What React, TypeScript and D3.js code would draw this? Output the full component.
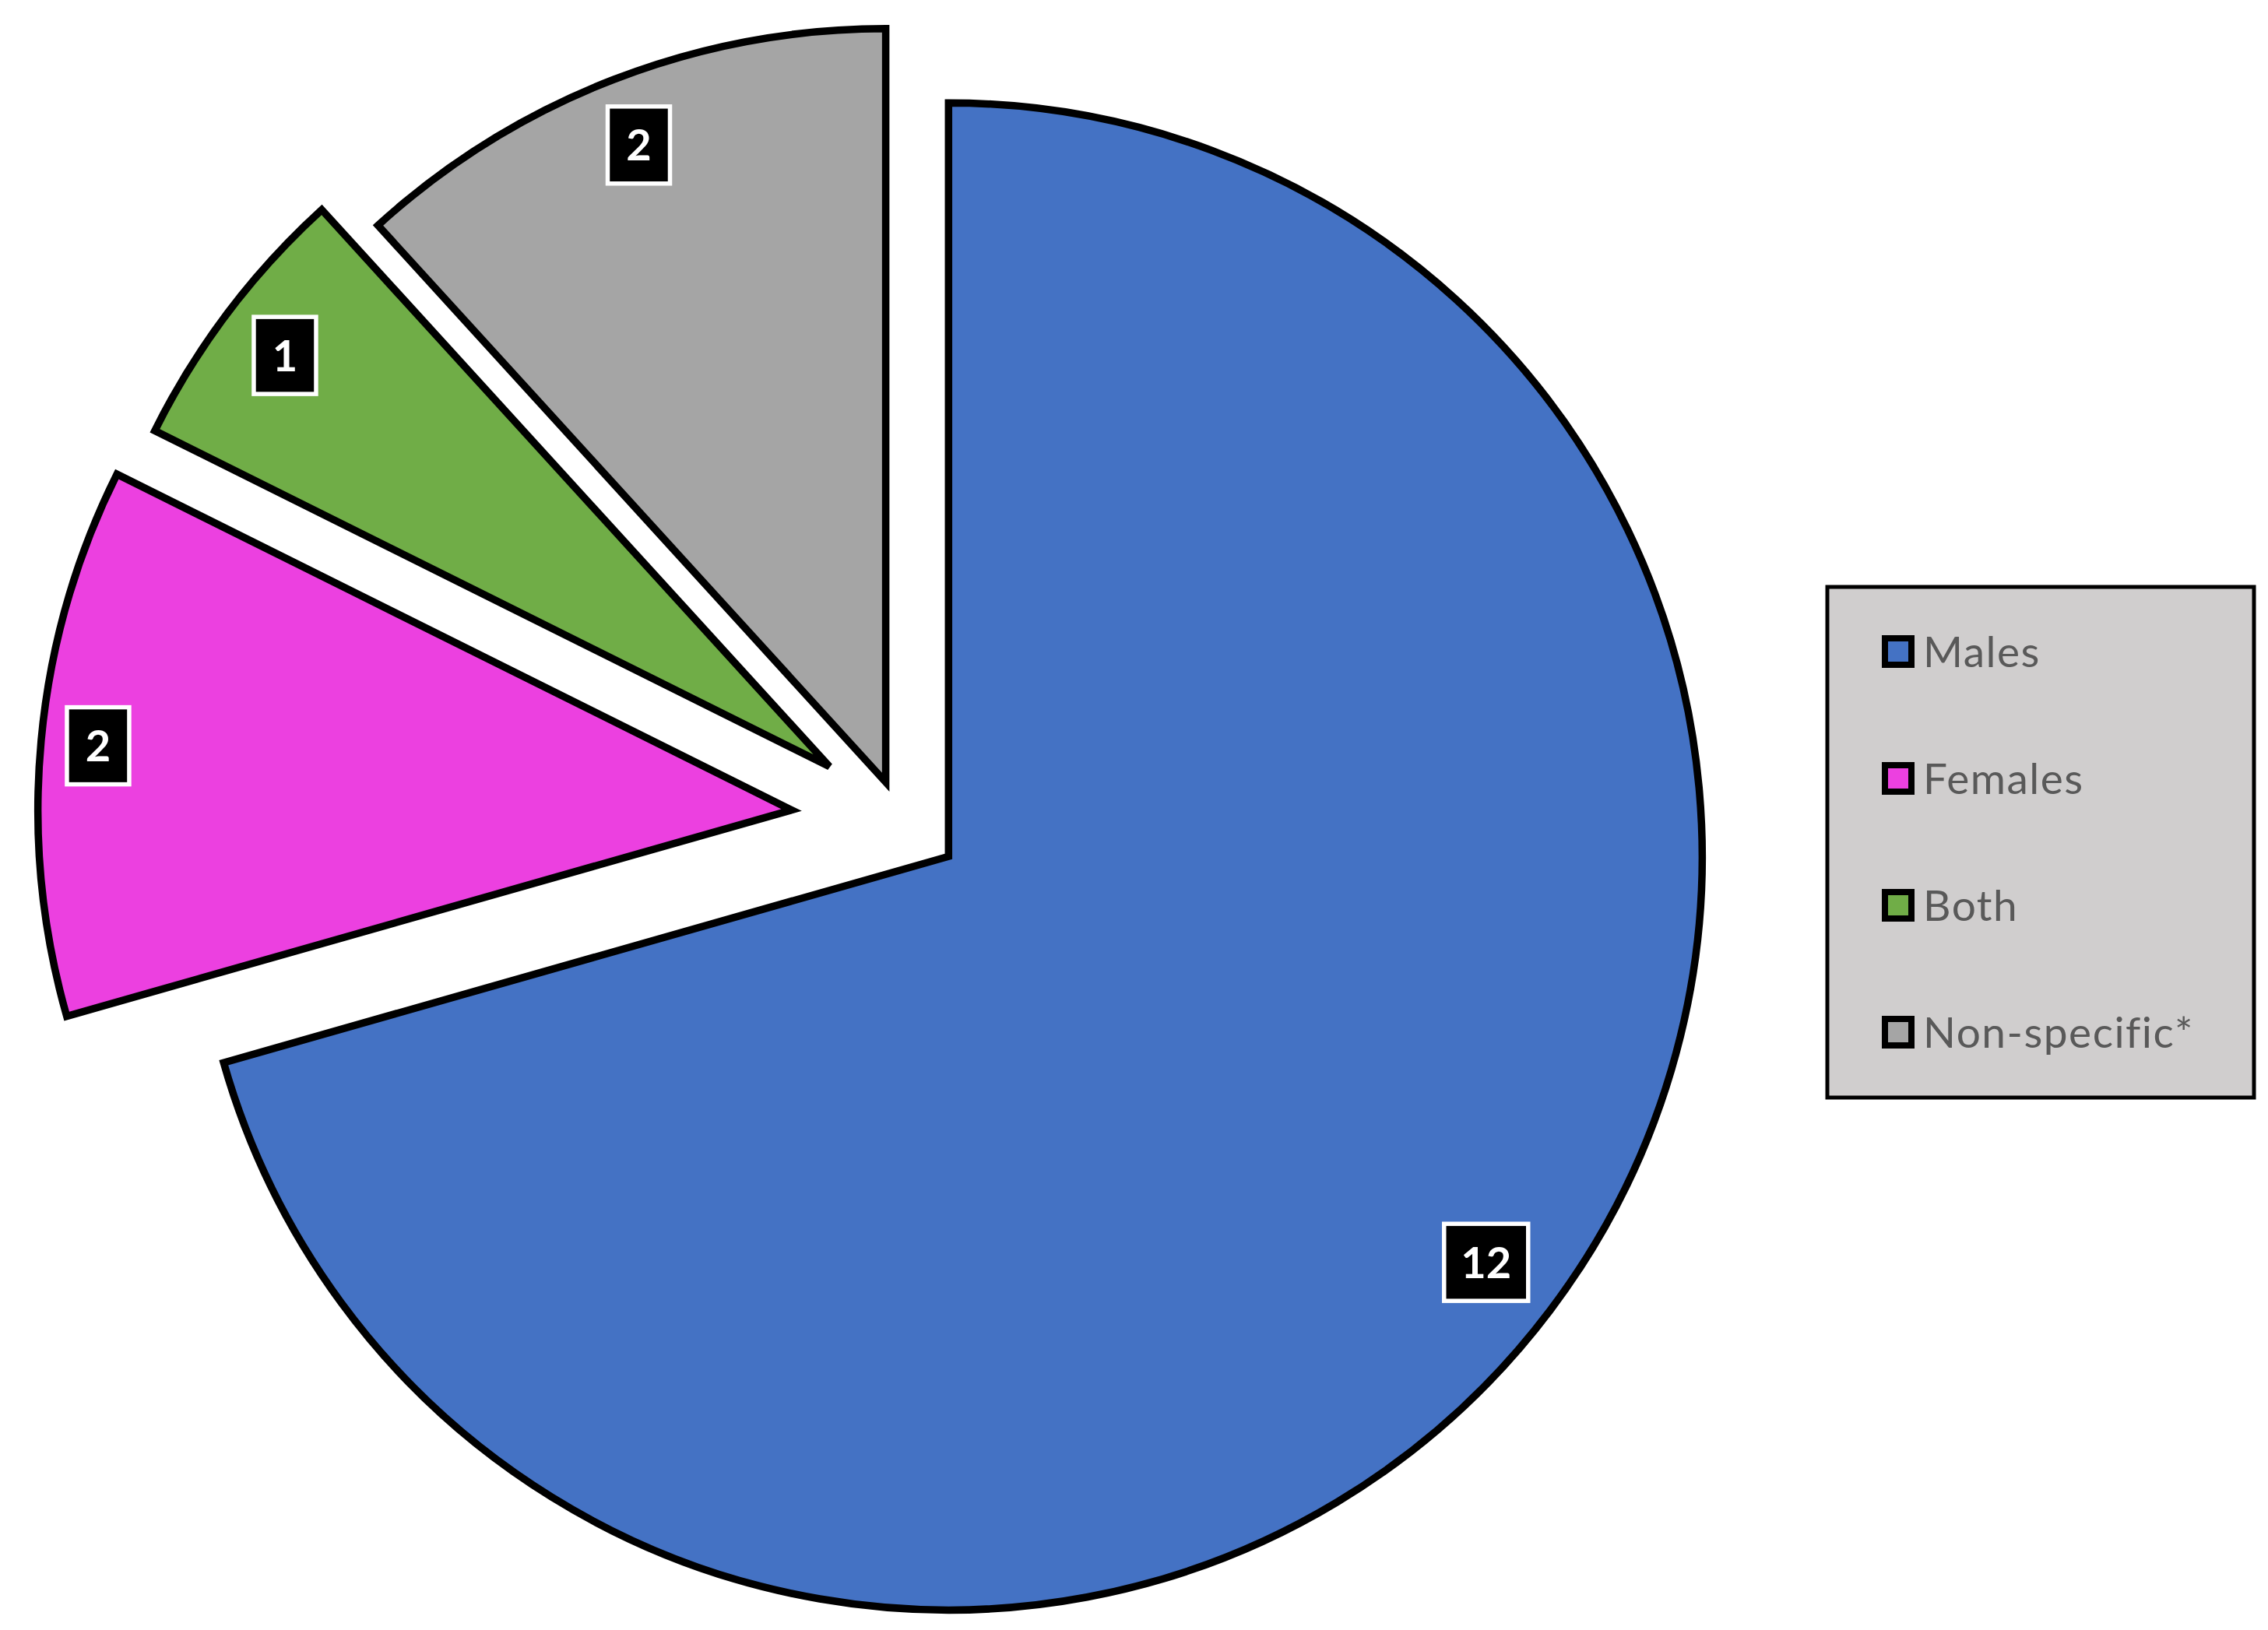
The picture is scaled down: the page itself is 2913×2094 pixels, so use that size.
import React from "react";
import * as d3 from "d3";

const categories = ["Males", "Females", "Both", "Non-specific*"];
const values = [12, 2, 1, 2];
const colors = ["#4472C4", "#EC40E0", "#70AD47", "#A5A5A5"];
// explosion as fraction of radius (styling)
const explode = [0.08, 0.145, 0.118, 0.054];

const W = 2913;
const H = 2094;
const CX = 1156.5;
const CY = 1053.6;
const R = 968;

export default function App() {
  const pie = d3
    .pie<number>()
    .sort(null)
    .startAngle(0)
    .endAngle(2 * Math.PI)
    .value((d) => d);
  const arcs = pie(values);
  const arcGen = d3.arc<d3.PieArcDatum<number>>().innerRadius(0).outerRadius(R);

  const legendY = d3
    .scalePoint<string>()
    .domain(categories)
    .range([837, 1326]);

  const labelFont = 56;
  const digitW = 28;
  const boxH = 99;

  return (
    <svg
      width={W}
      height={H}
      viewBox={`0 0 ${W} ${H}`}
      style={{ position: "absolute", left: 0, top: 0, display: "block", background: "#fff" }}
    >
      <rect x={0} y={0} width={W} height={H} fill="#fff" />
      {arcs.map((a, i) => {
        const mid = (a.startAngle + a.endAngle) / 2;
        const dx = Math.sin(mid);
        const dy = -Math.cos(mid);
        const off = explode[i] * R;
        const vx = CX + dx * off;
        const vy = CY + dy * off;
        return (
          <g key={categories[i]} transform={`translate(${vx},${vy})`}>
            <path
              d={arcGen(a) || ""}
              fill={colors[i]}
              stroke="#000"
              strokeWidth={9.5}
              strokeLinejoin="miter"
              strokeMiterlimit={4}
            />
          </g>
        );
      })}
      {arcs.map((a, i) => {
        const mid = (a.startAngle + a.endAngle) / 2;
        const dx = Math.sin(mid);
        const dy = -Math.cos(mid);
        const off = explode[i] * R;
        const vx = CX + dx * off;
        const vy = CY + dy * off;
        const txt = String(values[i]);
        const bw = txt.length * digitW + 52;
        const bh = boxH;
        const proj = Math.abs(dx) * (bw / 2 + 2.75) + Math.abs(dy) * (bh / 2 + 2.75);
        const dist = R - proj - 26;
        const lx = vx + dx * dist;
        const ly = vy + dy * dist;
        return (
          <g key={"lab" + i} transform={`translate(${lx},${ly})`}>
            <rect
              x={-bw / 2}
              y={-bh / 2}
              width={bw}
              height={bh}
              fill="#000"
              stroke="#fff"
              strokeWidth={5.5}
            />
            <text
              x={0}
              y={labelFont * 0.36}
              textAnchor="middle"
              fill="#fff"
              fontFamily="Lato, 'Open Sans', sans-serif"
              fontWeight={700}
              fontSize={labelFont}
            >
              {txt}
            </text>
          </g>
        );
      })}
      <g>
        <rect
          x={2347}
          y={754}
          width={548}
          height={656}
          fill="#D0CECE"
          stroke="#000"
          strokeWidth={5}
        />
        {categories.map((c, i) => {
          const y = legendY(c) as number;
          return (
            <g key={"leg" + c}>
              <rect
                x={2438 - 17}
                y={y - 17}
                width={34}
                height={34}
                fill={colors[i]}
                stroke="#000"
                strokeWidth={8}
              />
              <text
                x={2470}
                y={y + 19.5}
                fill="#595959"
                fontFamily="Lato, 'Open Sans', sans-serif"
                fontSize={55}
                letterSpacing={1.5}
              >
                {c}
              </text>
            </g>
          );
        })}
      </g>
    </svg>
  );
}
